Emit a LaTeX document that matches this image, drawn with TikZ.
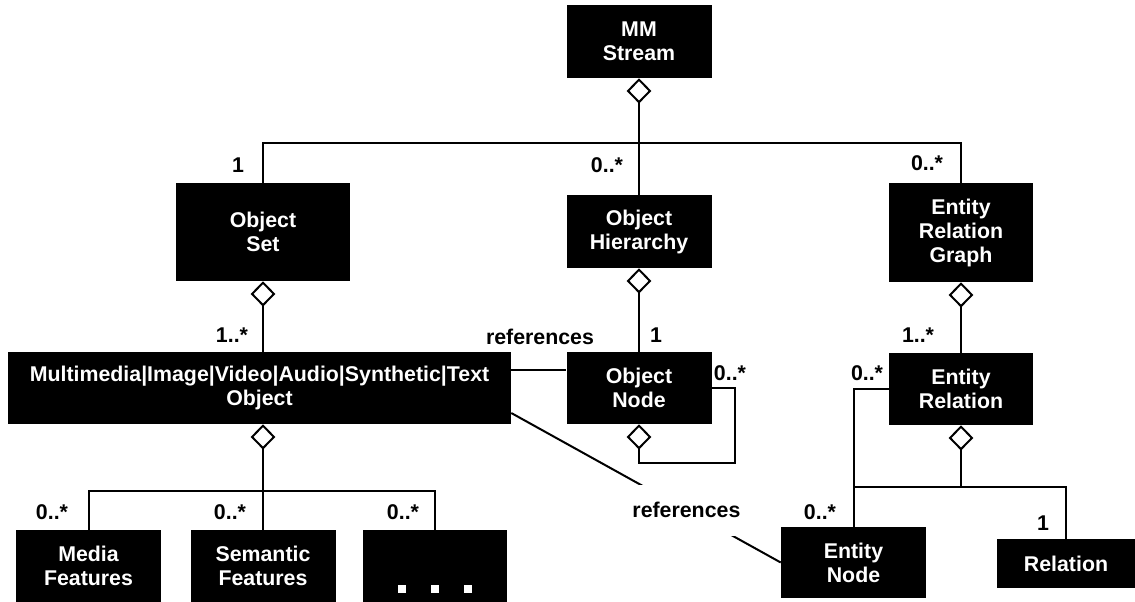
\documentclass[tikz,border=0pt]{standalone}
\usepackage{fontspec}
\setmainfont{Liberation Sans}
\usetikzlibrary{arrows.meta}
\tikzset{
  cls/.style={fill=black, text=white, align=center, inner sep=0pt, font=\bfseries\fontsize{16}{18}\selectfont},
  mult/.style={inner sep=0pt, font=\bfseries\fontsize{16}{18}\selectfont},
  link/.style={line width=1.5pt},
  agg/.style={link, {Diamond[open, length=19pt, width=18.5pt]}-},
}

\begin{document}
\begin{tikzpicture}[x=0.75pt, y=-0.75pt]
        \useasboundingbox (0,0) rectangle (1135,602);

        \node[cls, minimum width=108.75pt, minimum height=54.75pt] at (639, 41.5)  (stream) {MM\\Stream};
        \node[cls, minimum width=130.5pt, minimum height=73.5pt]   at (263, 232)   (oset)   {Object\\Set};
        \node[cls, minimum width=108.75pt, minimum height=54.75pt] at (639, 231.5) (ohier)  {Object\\Hierarchy};
        \node[cls, minimum width=108pt, minimum height=74.25pt]    at (961, 232.5) (erg)    {Entity\\Relation\\Graph};
        \node[cls, minimum width=377.25pt, minimum height=54pt]    at (259.5, 388) (mmobj)  {Multimedia|Image|Video|Audio|Synthetic|Text\\Object};
        \node[cls, minimum width=108.75pt, minimum height=54pt]    at (639, 388)   (onode)  {Object\\Node};
        \node[cls, minimum width=108pt, minimum height=54pt]       at (961, 389)   (er)     {Entity\\Relation};
        \node[cls, minimum width=108.75pt, minimum height=54pt]    at (88.5, 566)  (media)  {Media\\Features};
        \node[cls, minimum width=108.75pt, minimum height=54pt]    at (263, 566)   (seman)  {Semantic\\Features};
        \node[cls, minimum width=108pt, minimum height=54pt]       at (435, 566)   (dots)   {};
        \node[cls, minimum width=108.75pt, minimum height=53.25pt] at (853.5, 562.5) (enode) {Entity\\Node};
        \node[cls, minimum width=103.5pt, minimum height=36.75pt]  at (1066, 563.5) (rel)   {Relation};

        % the dots in the last feature box
        \foreach \dx in {-33, 0, 33}
            \fill[white] ([shift={(\dx-4, -9)}]dots.south) rectangle ++(8, -8);

        \coordinate (bus) at (639, 143);
        \coordinate (fbus) at (263, 491);
        \coordinate (erbus) at (961, 487);
        \coordinate (loop) at (735, 463);

        \draw[agg] (stream.south) -- (ohier.north);
        \draw[link] (oset.north) |- (bus) -| (erg.north);
        \draw[agg] (oset.south) -- (oset.south |- mmobj.north);
        \draw[agg] (ohier.south) -- (onode.north);
        \draw[agg] (erg.south) -- (er.north);
        \draw[link] ([yshift=13.5pt]mmobj.east) -- ([yshift=13.5pt]onode.west);
        \draw[agg] (onode.south) |- (loop) |- (onode.east);
        \draw[link] ([yshift=-18.75pt]mmobj.east) -- node[pos=0.65, mult, fill=white, inner xsep=2pt, minimum height=38pt] (refs) {references} (enode.west);
        \draw[agg] (seman.north |- mmobj.south) -- (seman.north);
        \draw[link] (media.north) |- (fbus) -| (dots.north);
        \draw[agg] (er.south) -- (erbus);
        \draw[link] (enode.north) |- (erbus) -| (rel.north);
        \draw[link] (er.west) -| (enode.north);

        \node[mult] at (238, 165)  (m1)  {1};
        \node[mult] at (607, 165)  (m2)  {0..*};
        \node[mult] at (927, 163)  (m3)  {0..*};
        \node[mult] at (232, 335)  (m4)  {1..*};
        \node[mult] at (540, 337)  (ref) {references};
        \node[mult] at (656, 335)  (m5)  {1};
        \node[mult] at (730, 373)  (m6)  {0..*};
        \node[mult] at (918, 335)  (m7)  {1..*};
        \node[mult] at (867, 373)  (m8)  {0..*};
        \node[mult] at (52, 512)   (m9)  {0..*};
        \node[mult] at (230, 512)  (m10) {0..*};
        \node[mult] at (403, 512)  (m11) {0..*};
        \node[mult] at (820, 512)  (m12) {0..*};
        \node[mult] at (1043, 523) (m13) {1};
    \end{tikzpicture}
\end{document}
